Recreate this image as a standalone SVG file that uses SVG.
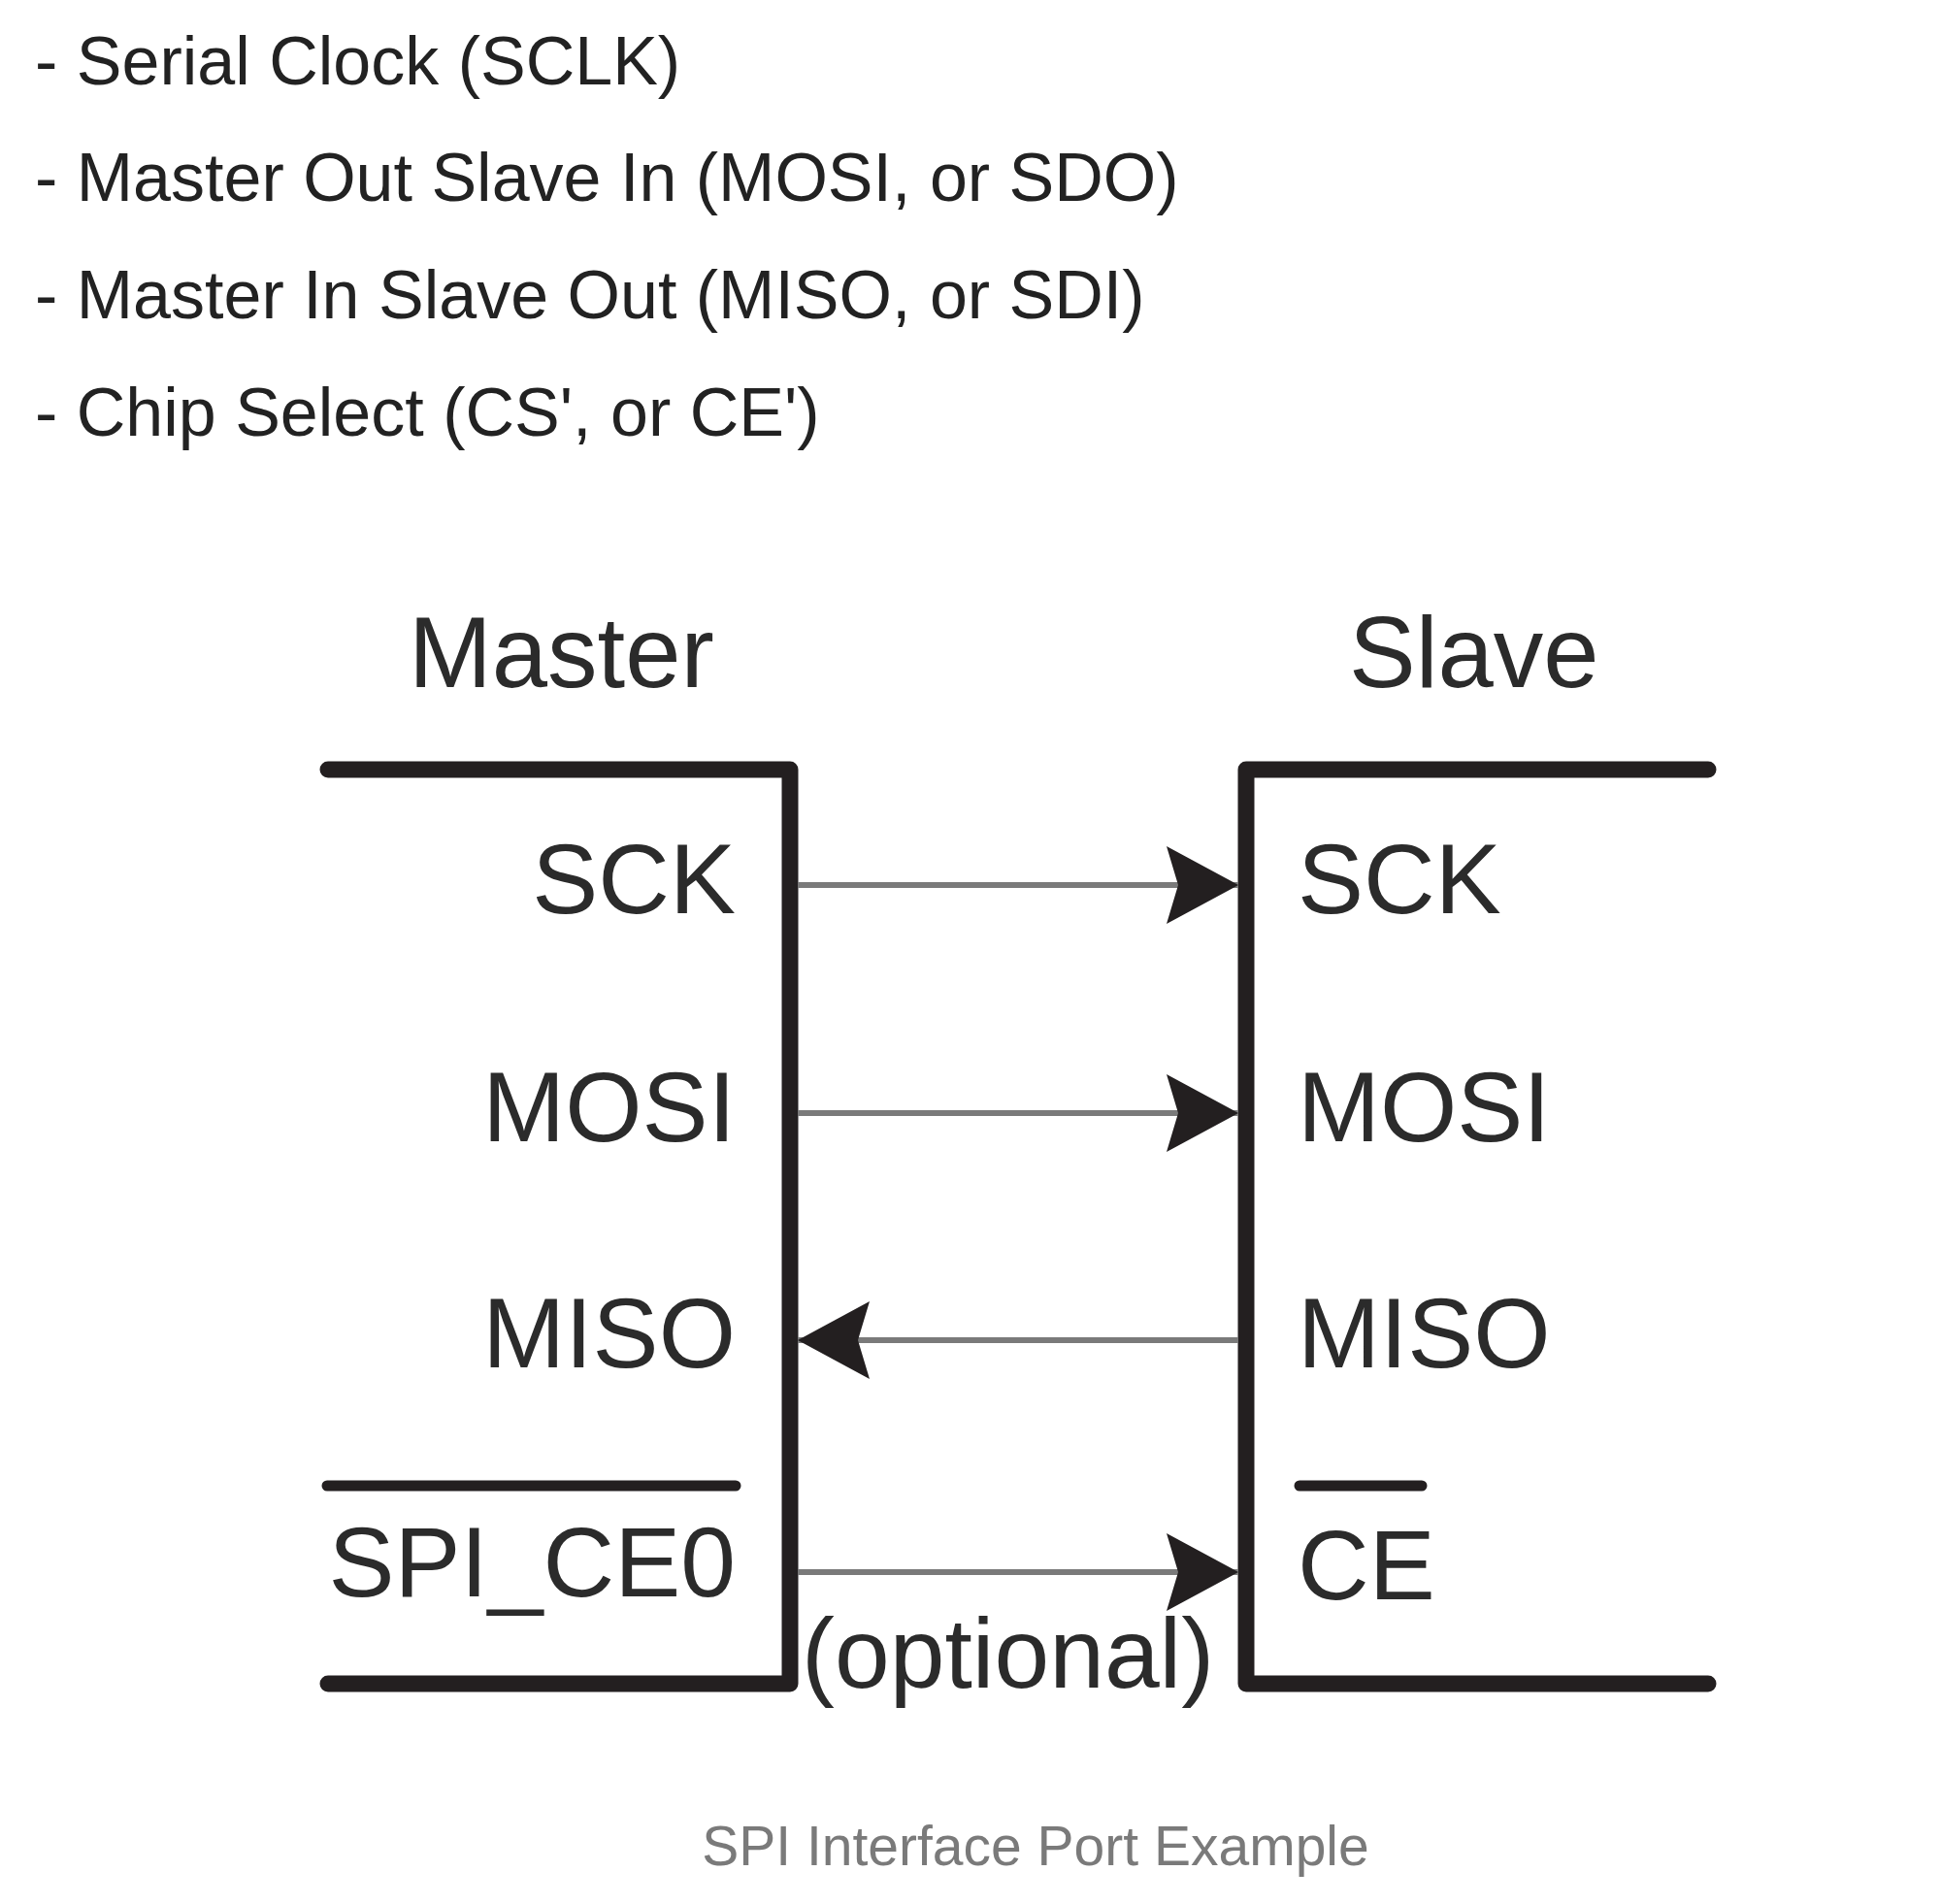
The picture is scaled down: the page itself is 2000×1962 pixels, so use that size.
<svg xmlns="http://www.w3.org/2000/svg" width="2000" height="1962" viewBox="0 0 2000 1962">
<style>
.intro{font-family:"Liberation Sans",Arial,sans-serif;font-size:70px;fill:#222222}
.title{font-family:"Liberation Sans",Arial,sans-serif;font-size:103px;fill:#2b2b2b}
.lbl{font-family:"Liberation Sans",Arial,sans-serif;font-size:102px;fill:#2b2b2b}
.cap{font-family:"Liberation Sans",Arial,sans-serif;font-size:57px;fill:#7a7a7a}
.frame{fill:none;stroke:#231f20;stroke-width:17;stroke-linecap:round;stroke-linejoin:round}
.bar{stroke:#231f20;stroke-width:11;stroke-linecap:round}
.sig{fill:none;stroke:#7a7a7a;stroke-width:6;marker-end:url(#ah)}
</style>
<defs>
<marker id="ah" viewBox="-80 -45 85 90" refX="0" refY="0" markerWidth="85" markerHeight="90" markerUnits="userSpaceOnUse" orient="auto">
<path d="M0,0 L-74,-40 L-62,0 L-74,40 Z" fill="#231f20"/>
</marker>
</defs>
<rect width="2000" height="1962" fill="#ffffff"/>
<g id="intro">
<text class="intro" x="36" y="87">- Serial Clock (SCLK)</text>
<text class="intro" x="36" y="207">- Master Out Slave In (MOSI, or SDO)</text>
<text class="intro" x="36" y="328">- Master In Slave Out (MISO, or SDI)</text>
<text class="intro" x="36" y="449">- Chip Select (CS', or CE')</text>
</g>
<g id="master">
<text class="title" x="421" y="708">Master</text>
<path class="frame" d="M338,793 L814,793 L814,1735 L338,1735"/>
<text class="lbl" x="758" y="941" text-anchor="end">SCK</text>
<text class="lbl" x="758" y="1176" text-anchor="end">MOSI</text>
<text class="lbl" x="758" y="1409" text-anchor="end">MISO</text>
<line class="bar" x1="337" y1="1531" x2="758" y2="1531"/>
<text class="lbl" x="758" y="1645" text-anchor="end">SPI_CE0</text>
</g>
<g id="slave">
<text class="title" x="1390" y="708">Slave</text>
<path class="frame" d="M1760,793 L1284,793 L1284,1735 L1760,1735"/>
<text class="lbl" x="1337" y="941">SCK</text>
<text class="lbl" x="1337" y="1176">MOSI</text>
<text class="lbl" x="1337" y="1409">MISO</text>
<line class="bar" x1="1339" y1="1531" x2="1465" y2="1531"/>
<text class="lbl" x="1337" y="1648">CE</text>
</g>
<g id="connectors">
<line class="sig" x1="822" y1="912" x2="1276" y2="912"/>
<line class="sig" x1="822" y1="1147" x2="1276" y2="1147"/>
<line class="sig" x1="1276" y1="1381" x2="822" y2="1381"/>
<line class="sig" x1="822" y1="1620" x2="1276" y2="1620"/>
</g>
<text class="lbl" x="826" y="1739">(optional)</text>
<text class="cap" x="1067" y="1922" text-anchor="middle">SPI Interface Port Example</text>
</svg>
